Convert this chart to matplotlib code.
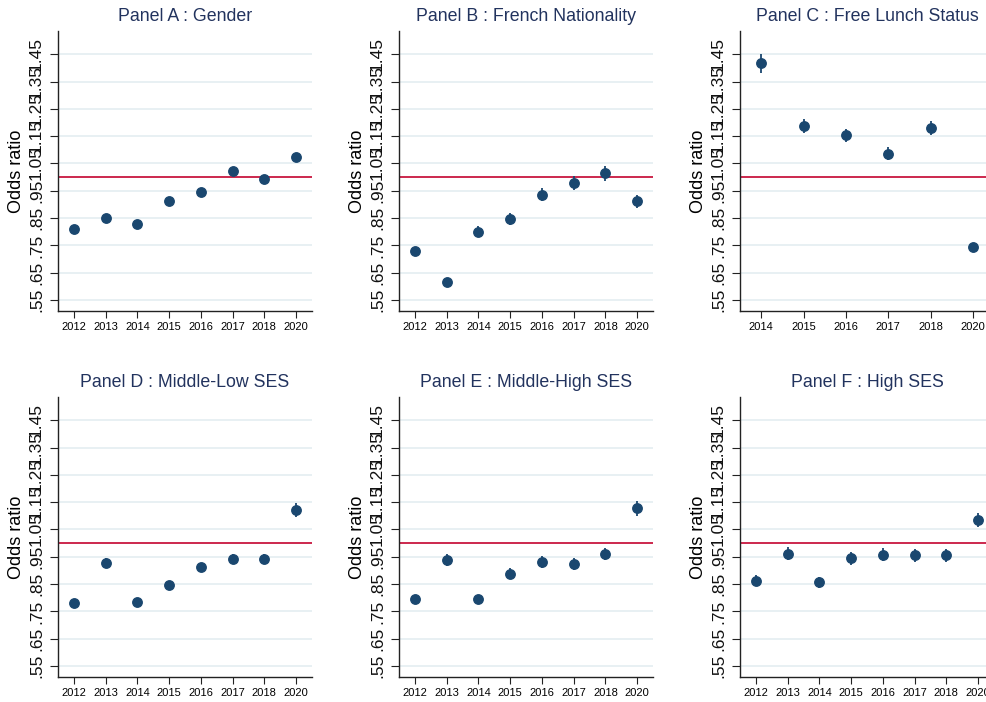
import matplotlib
matplotlib.use("Agg")
import matplotlib.pyplot as plt

plt.rcParams['font.family'] = ['Liberation Sans', 'DejaVu Sans']

# data
years_all = ['2012', '2013', '2014', '2015', '2016', '2017', '2018', '2020']
years_lunch = ['2014', '2015', '2016', '2017', '2018', '2020']

gender = [0.810, 0.852, 0.830, 0.914, 0.945, 1.023, 0.992, 1.074]
gender_err = [0.010, 0.010, 0.010, 0.012, 0.012, 0.014, 0.014, 0.014]

french = [0.728, 0.617, 0.800, 0.846, 0.936, 0.979, 1.014, 0.911]
french_err = [0.015, 0.012, 0.020, 0.022, 0.025, 0.025, 0.027, 0.025]

lunch = [1.417, 1.186, 1.154, 1.086, 1.180, 0.746]
lunch_err = [0.034, 0.026, 0.024, 0.024, 0.026, 0.014]

mid_low = [0.781, 0.926, 0.786, 0.847, 0.912, 0.941, 0.942, 1.122]
mid_low_err = [0.012, 0.018, 0.015, 0.015, 0.017, 0.018, 0.018, 0.026]

mid_high = [0.794, 0.940, 0.795, 0.888, 0.932, 0.922, 0.962, 1.128]
mid_high_err = [0.014, 0.022, 0.015, 0.020, 0.022, 0.022, 0.022, 0.028]

high = [0.862, 0.961, 0.856, 0.944, 0.957, 0.955, 0.955, 1.085]
high_err = [0.020, 0.024, 0.020, 0.024, 0.024, 0.024, 0.024, 0.026]

yticks = [0.55, 0.65, 0.75, 0.85, 0.95, 1.05, 1.15, 1.25, 1.35, 1.45]
ytick_labels = ['.55', '.65', '.75', '.85', '.95', '1.05', '1.15', '1.25', '1.35', '1.45']

panels = [
    ("Panel A : Gender", years_all, gender, gender_err),
    ("Panel B : French Nationality", years_all, french, french_err),
    ("Panel C : Free Lunch Status", years_lunch, lunch, lunch_err),
    ("Panel D : Middle-Low SES", years_all, mid_low, mid_low_err),
    ("Panel E : Middle-High SES", years_all, mid_high, mid_high_err),
    ("Panel F : High SES", years_all, high, high_err),
]

navy = '#1a476f'
red = '#c8173f'
W, H = 986, 702
fig = plt.figure(figsize=(W / 100, H / 100), dpi=100)

lefts = [58, 399, 740]
tops = [31, 397]
ax_w, ax_h = 254, 280

for i, (title, yrs, vals, errs) in enumerate(panels):
    r, c = divmod(i, 3)
    ax = fig.add_axes([lefts[c] / W, 1 - (tops[r] + ax_h) / H, ax_w / W, ax_h / H])
    ax.set_ylim(0.51, 1.535)
    ax.set_yticks(yticks)
    ax.set_yticklabels(ytick_labels)
    ax.grid(axis='y', color='#e4edf1', linewidth=1.2, zorder=0)
    ax.axhline(1.0, color=red, linewidth=1.3, zorder=2)
    ax.errorbar(yrs, vals, yerr=errs, fmt='o', color=navy, ms=6.8,
                elinewidth=1.3, capsize=0, zorder=3)
    ax.set_xlim(-0.5, len(yrs) - 0.5)
    for s in ['top', 'right']:
        ax.spines[s].set_visible(False)
    for s in ['left', 'bottom']:
        ax.spines[s].set_color('#222222')
        ax.spines[s].set_linewidth(1.0)
    ax.tick_params(axis='y', labelrotation=90, labelsize=12.5, length=6, pad=4,
                   color='#222222', labelcolor='#111111')
    for lab in ax.get_yticklabels():
        lab.set_va('center')
    ax.tick_params(axis='x', labelsize=8, length=5, pad=3, color='#222222')
    ax.set_ylabel('Odds ratio', fontsize=13)
    ax.yaxis.set_label_coords(-0.13, 0.5)
    ax.set_title(title, fontsize=12.8, color='#22335e', pad=7)

fig.savefig('out.png', dpi=100)
